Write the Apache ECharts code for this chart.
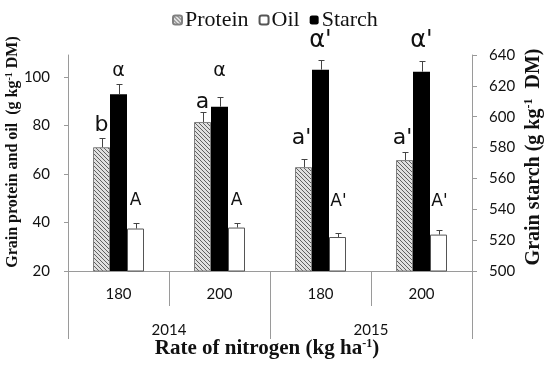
<!DOCTYPE html>
<html><head><meta charset="utf-8">
<script src="https://cdn.jsdelivr.net/npm/echarts@6/dist/echarts.min.js"></script>
<style>html,body{margin:0;padding:0;background:#fff}#c{width:550px;height:365px}</style>
</head><body><div id="c"></div>
<script>
const rates = ['180', '200', '180', '200'];
const years = ['2014', '2015'];
const protein = [71.0, 81.4, 62.8, 65.7];
const proteinErr = [3.6, 4.1, 3.3, 3.2];
const starch = [614.6, 606.5, 630.5, 629.2];
const starchErr = [6.5, 6.5, 6.5, 6.7];
const oil = [37.5, 37.9, 34.0, 35.0];
const oilErr = [2.2, 1.8, 1.7, 2.0];
const leftTicks = [20, 40, 60, 80, 100];
const rightTicks = [500, 520, 540, 560, 580, 600, 620, 640];
// significance letters: text, category index, bar index (0 protein,1 starch,2 oil), height in left-axis units
const annText = ['b', 'α', 'A', 'a', 'α', 'A', "a'", "α'", "A'", "a'", "α'", "A'"];
const annCat  = [0, 0, 0, 1, 1, 1, 2, 2, 2, 3, 3, 3];
const annBar  = [0, 1, 2, 0, 1, 2, 0, 1, 2, 0, 1, 2];
const annY    = [80, 102.4, 49, 89.6, 102.4, 49, 74.6, 115, 48.6, 74.6, 115, 48.6];

const BAR_W = 17;
const AX = '#9a9a9a';
const SERIF = '"Liberation Serif", "DejaVu Serif", serif';
const TICKF = 'Lato, "Noto Sans", sans-serif';
const LETF = '"DejaVu Sans", sans-serif';

function hatch() {
  const n = 4, c = document.createElement('canvas');
  c.width = n; c.height = n;
  const g = c.getContext('2d');
  g.fillStyle = '#e0e0e0'; g.fillRect(0, 0, n, n);
  g.strokeStyle = '#606060'; g.lineWidth = 1;
  g.beginPath();
  for (let k = -n; k <= n; k += n) { g.moveTo(k, 0); g.lineTo(k + n, n); }
  g.stroke();
  return c;
}
const pat = { image: hatch(), repeat: 'repeat' };

function errSeries(vals, errs, barIdx, yIdx) {
  return {
    type: 'custom', yAxisIndex: yIdx, xAxisIndex: 0, silent: true, z: 5,
    data: vals.map((v, i) => [i, v, errs[i]]),
    renderItem: function (params, api) {
      const i = api.value(0), v = api.value(1), e = api.value(2);
      const b = api.coord([i, v]), t = api.coord([i, v + e]);
      const x = Math.round(b[0] + (barIdx - 1) * BAR_W) + 0.5;
      return { type: 'group', children: [
        { type: 'line', shape: { x1: x, y1: b[1], x2: x, y2: Math.round(t[1]) + 0.5 }, style: { stroke: '#444', lineWidth: 1 } },
        { type: 'line', shape: { x1: x - 3, y1: Math.round(t[1]) + 0.5, x2: x + 3, y2: Math.round(t[1]) + 0.5 }, style: { stroke: '#444', lineWidth: 1 } }
      ]};
    }
  };
}
function letterFont(s) {
  if (s === 'α') return '19px ' + LETF;
  if (s === "α'") return '24px ' + LETF;
  if (s[0] === 'A') return '17px ' + LETF;
  return '22px ' + LETF;
}
function letterShift(s) {
  if (s === "a'") return -2;
  if (s === "A'") return 1;
  return 0;
}

const chart = echarts.init(document.getElementById('c'), null, { renderer: 'canvas' });
chart.setOption({
  animation: false,
  backgroundColor: '#fff',
  grid: { left: 68, right: 78, top: 55, bottom: 94, containLabel: false },
  legend: {
    top: 4, left: 167, itemWidth: 9, itemHeight: 9, itemGap: 10,
    data: ['Protein', 'Oil', 'Starch'],
    textStyle: { fontFamily: SERIF, fontSize: 22, color: '#111', padding: [0, 0, 0, -2] }
  },
  xAxis: [
    { type: 'category', data: rates, position: 'bottom',
      axisLine: { lineStyle: { color: AX } },
      axisTick: { show: true, length: 35, lineStyle: { color: AX } },
      axisLabel: { margin: 16, fontFamily: TICKF, fontSize: 15, color: '#111' } },
    { type: 'category', data: years, position: 'bottom',
      axisLine: { show: false },
      axisTick: { show: true, length: 68, lineStyle: { color: AX } },
      axisLabel: { margin: 52, fontFamily: TICKF, fontSize: 15, color: '#111' } }
  ],
  yAxis: [
    { type: 'value', position: 'left', min: 20, max: 109, interval: 20,
      splitLine: { show: false },
      axisLine: { show: true, lineStyle: { color: AX } },
      axisTick: { show: true, length: 4, lineStyle: { color: AX }, customValues: leftTicks },
      axisLabel: { customValues: leftTicks, margin: 18, fontFamily: TICKF, fontSize: 15, color: '#111' } },
    { type: 'value', position: 'right', min: 500, max: 640, interval: 20,
      splitLine: { show: false },
      axisLine: { show: true, lineStyle: { color: AX } },
      axisTick: { show: true, length: 5, lineStyle: { color: AX }, customValues: rightTicks },
      axisLabel: { customValues: rightTicks, margin: 17, fontFamily: TICKF, fontSize: 15, color: '#111' } }
  ],
  series: [
    { name: 'Protein', type: 'bar', data: protein, barWidth: BAR_W, barGap: '0%', yAxisIndex: 0,
      itemStyle: { color: pat, borderColor: '#808080', borderWidth: 1 } },
    { name: 'Starch', type: 'bar', data: starch, barWidth: BAR_W, barGap: '0%', yAxisIndex: 1,
      itemStyle: { color: '#000', borderColor: '#000', borderWidth: 0 } },
    { name: 'Oil', type: 'bar', data: oil, barWidth: BAR_W, barGap: '0%', yAxisIndex: 0,
      itemStyle: { color: '#fff', borderColor: '#555', borderWidth: 1 } },
    errSeries(protein, proteinErr, 0, 0),
    errSeries(starch, starchErr, 1, 1),
    errSeries(oil, oilErr, 2, 0),
    { type: 'custom', yAxisIndex: 0, xAxisIndex: 0, silent: true, z: 6,
      data: annText.map((t, i) => [annCat[i], annY[i], annBar[i]]),
      renderItem: function (params, api) {
        const p = api.coord([api.value(0), api.value(1)]);
        const s = annText[params.dataIndex];
        return { type: 'text', x: p[0] + (api.value(2) - 1) * BAR_W + letterShift(s), y: p[1],
          style: { text: s, font: letterFont(s), fill: '#111', align: 'center', verticalAlign: 'middle' } };
      } }
  ],
  graphic: [
    { type: 'text', x: 13, y: 152, rotation: Math.PI / 2,
      style: { text: '{a|Grain protein and oil  (g kg}{s|-1}{a| DM)}', align: 'center', verticalAlign: 'middle',
        rich: { a: { fontFamily: SERIF, fontSize: 16, fontWeight: 'bold', fill: '#111' },
                s: { fontFamily: SERIF, fontSize: 10, fontWeight: 'bold', fill: '#111', padding: [0, 0, 8, 0] } } } },
    { type: 'text', x: 534, y: 157, rotation: Math.PI / 2,
      style: { text: '{a|Grain starch (g kg}{s|-1}{a|  DM)}', align: 'center', verticalAlign: 'middle',
        rich: { a: { fontFamily: SERIF, fontSize: 20, fontWeight: 'bold', fill: '#111' },
                s: { fontFamily: SERIF, fontSize: 12, fontWeight: 'bold', fill: '#111', padding: [0, 0, 10, 0] } } } },
    { type: 'text', x: 267, y: 349,
      style: { text: '{a|Rate of nitrogen (kg ha}{s|-1}{a|)}', align: 'center', verticalAlign: 'middle',
        rich: { a: { fontFamily: SERIF, fontSize: 21, fontWeight: 'bold', fill: '#111' },
                s: { fontFamily: SERIF, fontSize: 12, fontWeight: 'bold', fill: '#111', padding: [0, 0, 10, 0] } } } }
  ]
});
</script></body></html>
